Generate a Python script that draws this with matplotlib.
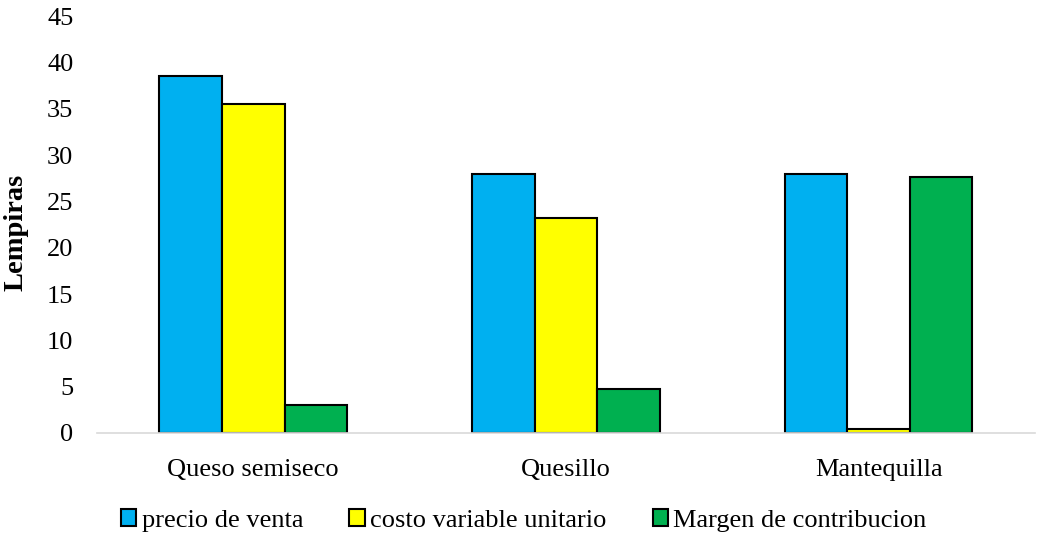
import matplotlib
matplotlib.use("Agg")
import matplotlib.pyplot as plt
import numpy as np

categories = ["Queso semiseco", "Quesillo", "Mantequilla"]
series_names = ["precio de venta", "costo variable unitario", "Margen de contribucion"]
precio_venta = [38.5, 28.0, 28.0]
costo_variable = [35.5, 23.2, 0.4]
margen = [3.0, 4.8, 27.6]
colors = ["#00B0F0", "#FFFF00", "#00B050"]
yticks = [0, 5, 10, 15, 20, 25, 30, 35, 40, 45]

plt.rcParams["font.family"] = ["Liberation Serif", "DejaVu Serif"]

fig = plt.figure(figsize=(10.37, 5.35), dpi=100)
ax = fig.add_axes([0.0935, 0.1907, 0.9045, 0.7793])

x = np.arange(len(categories))
w = 0.2
for i, (vals, name, c) in enumerate(zip([precio_venta, costo_variable, margen], series_names, colors)):
    ax.bar(x + (i - 1) * w, vals, width=w, color=c, edgecolor="black", linewidth=1.5, label=name, zorder=3)

ax.set_xlim(-0.5, 2.5)
ax.set_ylim(0, 45)
ax.set_yticks(yticks)
ax.set_yticklabels([str(t) for t in yticks], fontsize=19)
ax.set_xticks(x)
ax.set_xticklabels(categories, fontsize=19)
ax.tick_params(axis="both", length=0)
ax.tick_params(axis="y", pad=17)
ax.tick_params(axis="x", pad=19)
for s in ["top", "right", "left"]:
    ax.spines[s].set_visible(False)
ax.spines["bottom"].set_color("#D9D9D9")
ax.spines["bottom"].set_linewidth(1.2)
ax.spines["bottom"].set_zorder(4)

ax.set_ylabel("Lempiras", fontsize=20.5, fontweight="bold")
ax.yaxis.set_label_coords(-0.073, 0.48)

leg = ax.legend(loc="center", bbox_to_anchor=(0.455, -0.21), ncol=3, frameon=False,
                fontsize=19, handlelength=0.58, handleheight=0.58, handletextpad=0.2,
                columnspacing=1.75, borderaxespad=0)
for h in leg.legend_handles:
    h.set_linewidth(1.5)

fig.savefig("out.png", dpi=100)
